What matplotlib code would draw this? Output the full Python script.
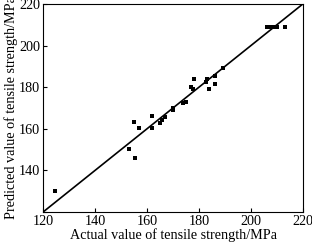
import matplotlib.pyplot as plt
import numpy as np

plt.rcParams['font.family'] = 'Liberation Serif'

# actual vs predicted tensile strength (MPa)
actual = [124.7, 152.9, 155.3, 155.0, 156.9, 161.8, 162.1, 165.0, 165.8, 166.8,
          170.1, 170.1, 173.7, 175.0, 176.9, 177.9, 177.8, 182.8, 182.9, 183.8,
          186.0, 186.2, 189.1, 206.0, 207.3, 208.6, 210.1, 213.2]
predicted = [130.1, 150.4, 146.1, 163.3, 160.5, 160.5, 166.2, 162.9, 164.2, 165.8,
             169.0, 170.2, 172.2, 173.0, 179.9, 183.8, 179.0, 182.7, 183.9, 179.0,
             185.4, 181.5, 189.4, 208.9, 208.9, 208.9, 208.9, 208.9]
ticks = [120, 140, 160, 180, 200, 220]
ytick_labels = ['', '140', '160', '180', '200', '220']

fig = plt.figure(figsize=(3.12, 2.44), dpi=100)
ax = fig.add_axes([0.138, 0.131, 0.833, 0.853])

ax.plot([120, 220], [120, 220], color='black', lw=1.2)
ax.plot(actual, predicted, 's', color='black', ms=3.2, mew=0)

ax.set_xlim(120, 220)
ax.set_ylim(120, 220)
ax.set_xticks(ticks)
ax.set_yticks(ticks)
ax.set_yticklabels(ytick_labels)
ax.tick_params(direction='in', length=3, width=0.8, labelsize=10.2, pad=2)
for s in ax.spines.values():
    s.set_linewidth(0.8)

ax.set_xlabel('Actual value of tensile strength/MPa', fontsize=10.2, labelpad=0)
ax.set_ylabel('Predicted value of tensile strength/MPa', fontsize=10.2, labelpad=1)

fig.savefig('out.png', dpi=100)
